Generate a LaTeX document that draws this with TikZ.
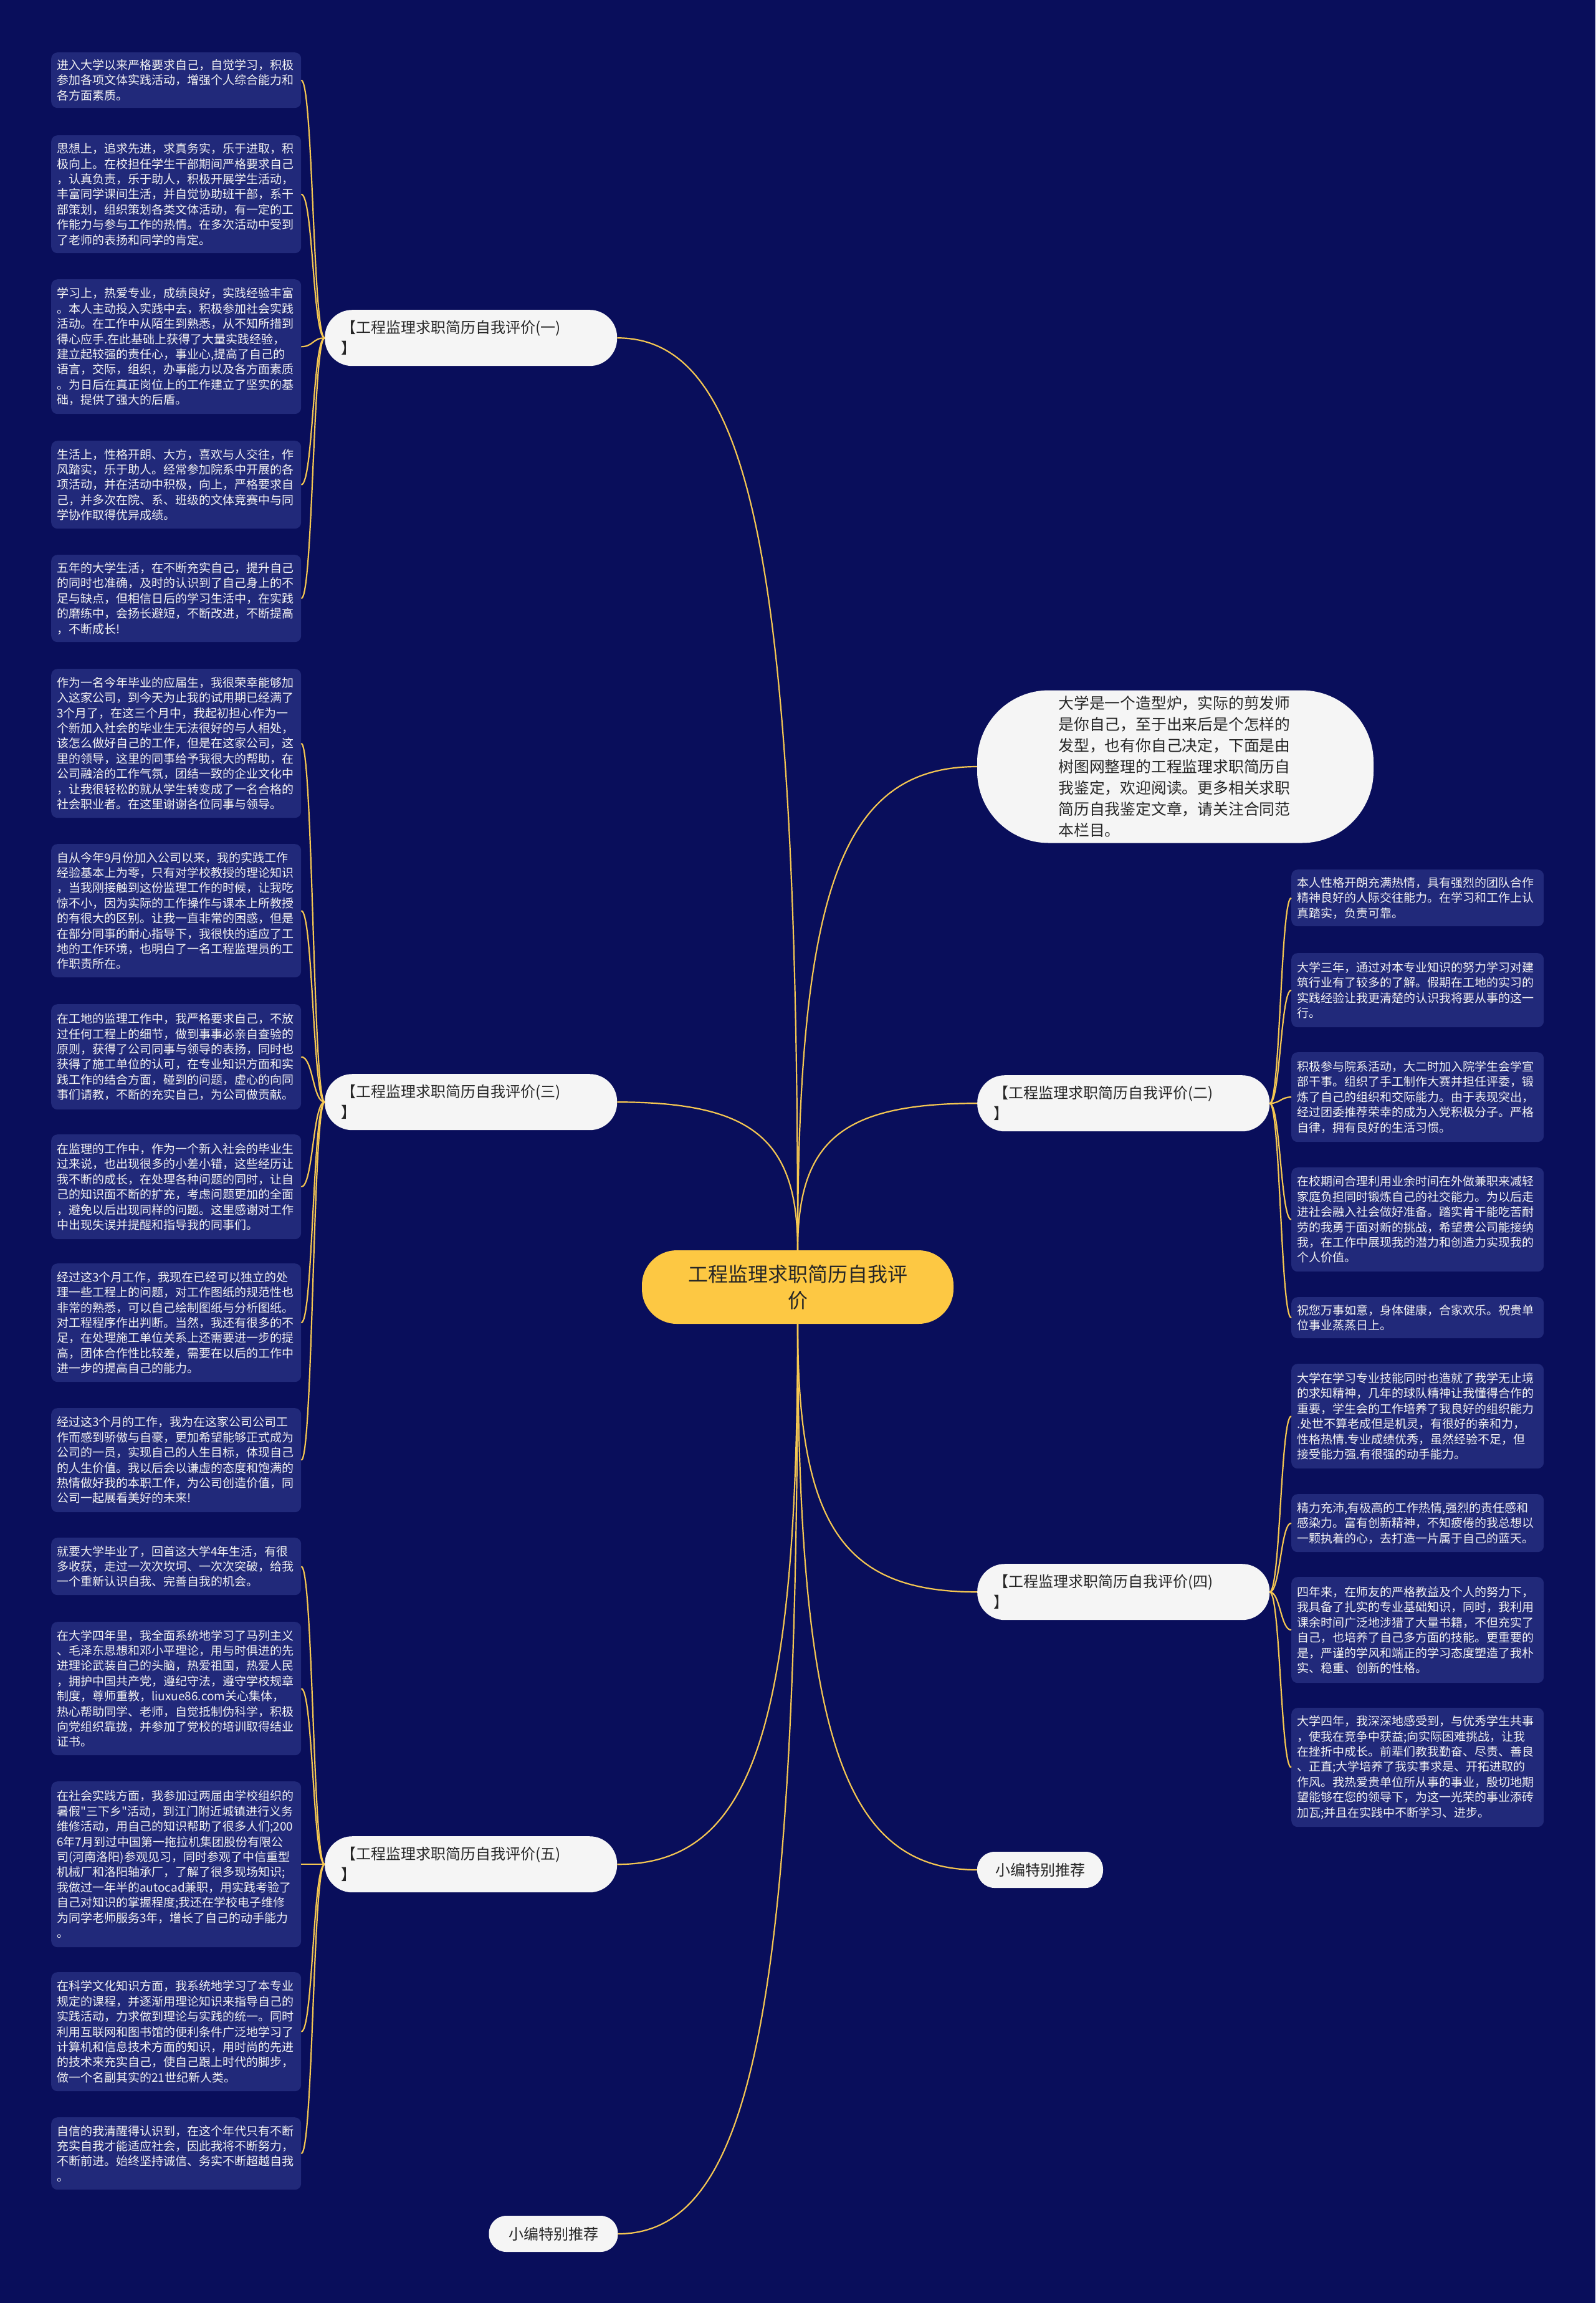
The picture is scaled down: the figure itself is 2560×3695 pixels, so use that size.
\documentclass[tikz,border=0pt]{standalone}
\usepackage{fontspec}
\newfontfamily\cjk{Noto Sans CJK SC}
\usetikzlibrary{calc}
\definecolor{bgc}{HTML}{090E5B}
\definecolor{leafc}{HTML}{21297A}
\definecolor{linec}{HTML}{F5C752}
\definecolor{nodec}{HTML}{F5F5F5}
\definecolor{centc}{HTML}{FDC843}
\definecolor{txtd}{HTML}{262626}
\definecolor{leaftxt}{HTML}{F2F2F2}
\tikzset{
  leafbox/.style={fill=leafc, rounded corners=10pt, anchor=north west, text width=383pt, align=left,
    inner xsep=9pt, inner ysep=10pt, font=\cjk\fontsize{19pt}{24.4pt}\selectfont, text=leaftxt},
  rleafbox/.style={leafbox, text width=387pt},
  branchbox/.style={fill=nodec, rounded corners=44pt, anchor=north west, minimum height=90pt,
    text width=417pt, inner xsep=26pt, align=left, font=\cjk\fontsize{24pt}{33pt}\selectfont, text=txtd},
  centbox/.style={fill=centc, rounded corners=56pt, minimum width=500pt, minimum height=118pt,
    align=center, font=\cjk\fontsize{32pt}{42pt}\selectfont, text=txtd},
  introbox/.style={fill=nodec, rounded corners=115pt, minimum width=636pt, minimum height=245pt,
    text width=375pt, align=left, inner ysep=6pt, font=\cjk\fontsize{24.8pt}{34pt}\selectfont, text=txtd},
  recbox/.style={fill=nodec, rounded corners=28pt, minimum height=58pt, align=center,
    font=\cjk\fontsize{24pt}{30pt}\selectfont, text=txtd},
  conn/.style={draw=linec, line width=2.2pt},
}
\newcommand\mmlink[3]{\coordinate (#3) at (#1 |- #2);\draw[conn] (#1) .. controls ($(#1)!0.75!(#3)$) and ($(#2)!0.75!(#3)$) .. (#2);}
\newcommand\leaflink[4]{\draw[conn] (#1) .. controls ([xshift=#3]#1) and ([xshift=#4]#2) .. (#2);}
\begin{document}
\begin{tikzpicture}[x=1pt,y=-1pt]
\fill[bgc] (0,0) rectangle (2560,3695);
\useasboundingbox (0,0) rectangle (2560,3695);

% center
\node[centbox] (center) at (1280,2065) {工程监理求职简历自我评\\价};

% branches
\node[branchbox] (b1) at (521,497) {【工程监理求职简历自我评价(一)\\】};
\node[branchbox] (b3) at (521,1723) {【工程监理求职简历自我评价(三)\\】};
\node[branchbox] (b5) at (521,2946) {【工程监理求职简历自我评价(五)\\】};
\node[branchbox] (b2) at (1568,1725) {【工程监理求职简历自我评价(二)\\】};
\node[branchbox] (b4) at (1568,2509) {【工程监理求职简历自我评价(四)\\】};
\node[introbox] (intro) at (1886,1230) {大学是一个造型炉，实际的剪发师\\是你自己，至于出来后是个怎样的\\发型，也有你自己决定，下面是由\\树图网整理的工程监理求职简历自\\我鉴定，欢迎阅读。更多相关求职\\简历自我鉴定文章，请关注合同范\\本栏目。};
\node[recbox, minimum width=207pt] (rec1) at (888,3584) {小编特别推荐};
\node[recbox, minimum width=202pt] (rec2) at (1669,3000) {小编特别推荐};

% left leaves (一)
\node[leafbox, minimum height=89pt] (l1) at (82,84) {进入大学以来严格要求自己，自觉学习，积极\\参加各项文体实践活动，增强个人综合能力和\\各方面素质。};
\node[leafbox, minimum height=189pt] (l2) at (82,217) {思想上，追求先进，求真务实，乐于进取，积\\极向上。在校担任学生干部期间严格要求自己\\，认真负责，乐于助人，积极开展学生活动，\\丰富同学课间生活，并自觉协助班干部，系干\\部策划，组织策划各类文体活动，有一定的工\\作能力与参与工作的热情。在多次活动中受到\\了老师的表扬和同学的肯定。};
\node[leafbox, minimum height=216pt] (l3) at (82,448) {学习上，热爱专业，成绩良好，实践经验丰富\\。本人主动投入实践中去，积极参加社会实践\\活动。在工作中从陌生到熟悉，从不知所措到\\得心应手.在此基础上获得了大量实践经验，\\建立起较强的责任心，事业心,提高了自己的\\语言，交际，组织，办事能力以及各方面素质\\。为日后在真正岗位上的工作建立了坚实的基\\础，提供了强大的后盾。};
\node[leafbox, minimum height=141pt] (l4) at (82,707) {生活上，性格开朗、大方，喜欢与人交往，作\\风踏实，乐于助人。经常参加院系中开展的各\\项活动，并在活动中积极，向上，严格要求自\\己，并多次在院、系、班级的文体竞赛中与同\\学协作取得优异成绩。};
\node[leafbox, minimum height=140pt] (l5) at (82,890) {五年的大学生活，在不断充实自己，提升自己\\的同时也准确，及时的认识到了自己身上的不\\足与缺点，但相信日后的学习生活中，在实践\\的磨练中，会扬长避短，不断改进，不断提高\\，不断成长!};

% left leaves (三)
\node[leafbox, minimum height=239pt] (l6) at (82,1073) {作为一名今年毕业的应届生，我很荣幸能够加\\入这家公司，到今天为止我的试用期已经满了\\3个月了，在这三个月中，我起初担心作为一\\个新加入社会的毕业生无法很好的与人相处，\\该怎么做好自己的工作，但是在这家公司，这\\里的领导，这里的同事给予我很大的帮助，在\\公司融洽的工作气氛，团结一致的企业文化中\\，让我很轻松的就从学生转变成了一名合格的\\社会职业者。在这里谢谢各位同事与领导。};
\node[leafbox, minimum height=214pt] (l7) at (82,1354) {自从今年9月份加入公司以来，我的实践工作\\经验基本上为零，只有对学校教授的理论知识\\，当我刚接触到这份监理工作的时候，让我吃\\惊不小，因为实际的工作操作与课本上所教授\\的有很大的区别。让我一直非常的困惑，但是\\在部分同事的耐心指导下，我很快的适应了工\\地的工作环境，也明白了一名工程监理员的工\\作职责所在。};
\node[leafbox, minimum height=169pt] (l8) at (82,1611) {在工地的监理工作中，我严格要求自己，不放\\过任何工程上的细节，做到事事必亲自查验的\\原则，获得了公司同事与领导的表扬，同时也\\获得了施工单位的认可，在专业知识方面和实\\践工作的结合方面，碰到的问题，虚心的向同\\事们请教，不断的充实自己，为公司做贡献。};
\node[leafbox, minimum height=168pt] (l9) at (82,1820) {在监理的工作中，作为一个新入社会的毕业生\\过来说，也出现很多的小差小错，这些经历让\\我不断的成长，在处理各种问题的同时，让自\\己的知识面不断的扩充，考虑问题更加的全面\\，避免以后出现同样的问题。这里感谢对工作\\中出现失误并提醒和指导我的同事们。};
\node[leafbox, minimum height=190pt] (l10) at (82,2027) {经过这3个月工作，我现在已经可以独立的处\\理一些工程上的问题，对工作图纸的规范性也\\非常的熟悉，可以自己绘制图纸与分析图纸。\\对工程程序作出判断。当然，我还有很多的不\\足，在处理施工单位关系上还需要进一步的提\\高，团体合作性比较差，需要在以后的工作中\\进一步的提高自己的能力。};
\node[leafbox, minimum height=167pt] (l11) at (82,2259) {经过这3个月的工作，我为在这家公司公司工\\作而感到骄傲与自豪，更加希望能够正式成为\\公司的一员，实现自己的人生目标，体现自己\\的人生价值。我以后会以谦虚的态度和饱满的\\热情做好我的本职工作，为公司创造价值，同\\公司一起展看美好的未来!};

% left leaves (五)
\node[leafbox, minimum height=92pt] (l12) at (82,2467) {就要大学毕业了，回首这大学4年生活，有很\\多收获，走过一次次坎坷、一次次突破，给我\\一个重新认识自我、完善自我的机会。};
\node[leafbox, minimum height=214pt] (l13) at (82,2602) {在大学四年里，我全面系统地学习了马列主义\\、毛泽东思想和邓小平理论，用与时俱进的先\\进理论武装自己的头脑，热爱祖国，热爱人民\\，拥护中国共产党，遵纪守法，遵守学校规章\\制度，尊师重教，liuxue86.com关心集体，\\热心帮助同学、老师，自觉抵制伪科学，积极\\向党组织靠拢，并参加了党校的培训取得结业\\证书。};
\node[leafbox, minimum height=266pt] (l14) at (82,2858) {在社会实践方面，我参加过两届由学校组织的\\暑假"三下乡"活动，到江门附近城镇进行义务\\维修活动，用自己的知识帮助了很多人们;200\\6年7月到过中国第一拖拉机集团股份有限公\\司(河南洛阳)参观见习，同时参观了中信重型\\机械厂和洛阳轴承厂，了解了很多现场知识;\\我做过一年半的autocad兼职，用实践考验了\\自己对知识的掌握程度;我还在学校电子维修\\为同学老师服务3年，增长了自己的动手能力\\。};
\node[leafbox, minimum height=191pt] (l15) at (82,3164) {在科学文化知识方面，我系统地学习了本专业\\规定的课程，并逐渐用理论知识来指导自己的\\实践活动，力求做到理论与实践的统一。同时\\利用互联网和图书馆的便利条件广泛地学习了\\计算机和信息技术方面的知识，用时尚的先进\\的技术来充实自己，使自己跟上时代的脚步，\\做一个名副其实的21世纪新人类。};
\node[leafbox, minimum height=116pt] (l16) at (82,3397) {自信的我清醒得认识到，在这个年代只有不断\\充实自我才能适应社会，因此我将不断努力，\\不断前进。始终坚持诚信、务实不断超越自我\\。};

% right leaves (二)
\node[rleafbox, minimum height=91pt] (r1) at (2072,1395) {本人性格开朗充满热情，具有强烈的团队合作\\精神良好的人际交往能力。在学习和工作上认\\真踏实，负责可靠。};
\node[rleafbox, minimum height=119pt] (r2) at (2072,1529) {大学三年，通过对本专业知识的努力学习对建\\筑行业有了较多的了解。假期在工地的实习的\\实践经验让我更清楚的认识我将要从事的这一\\行。};
\node[rleafbox, minimum height=144pt] (r3) at (2072,1688) {积极参与院系活动，大二时加入院学生会学宣\\部干事。组织了手工制作大赛并担任评委，锻\\炼了自己的组织和交际能力。由于表现突出，\\经过团委推荐荣幸的成为入党积极分子。严格\\自律，拥有良好的生活习惯。};
\node[rleafbox, minimum height=167pt] (r4) at (2072,1873) {在校期间合理利用业余时间在外做兼职来减轻\\家庭负担同时锻炼自己的社交能力。为以后走\\进社会融入社会做好准备。踏实肯干能吃苦耐\\劳的我勇于面对新的挑战，希望贵公司能接纳\\我，在工作中展现我的潜力和创造力实现我的\\个人价值。};
\node[rleafbox, minimum height=66pt] (r5) at (2072,2081) {祝您万事如意，身体健康，合家欢乐。祝贵单\\位事业蒸蒸日上。};

% right leaves (四)
\node[rleafbox, minimum height=168pt] (r6) at (2072,2188) {大学在学习专业技能同时也造就了我学无止境\\的求知精神，几年的球队精神让我懂得合作的\\重要，学生会的工作培养了我良好的组织能力\\.处世不算老成但是机灵，有很好的亲和力，\\性格热情.专业成绩优秀，虽然经验不足，但\\接受能力强.有很强的动手能力。};
\node[rleafbox, minimum height=93pt] (r7) at (2072,2397) {精力充沛,有极高的工作热情,强烈的责任感和\\感染力。富有创新精神，不知疲倦的我总想以\\一颗执着的心，去打造一片属于自己的蓝天。};
\node[rleafbox, minimum height=170pt] (r8) at (2072,2530) {四年来，在师友的严格教益及个人的努力下，\\我具备了扎实的专业基础知识，同时，我利用\\课余时间广泛地涉猎了大量书籍，不但充实了\\自己，也培养了自己多方面的技能。更重要的\\是，严谨的学风和端正的学习态度塑造了我朴\\实、稳重、创新的性格。};
\node[rleafbox, minimum height=191pt] (r9) at (2072,2740) {大学四年，我深深地感受到，与优秀学生共事\\，使我在竞争中获益;向实际困难挑战，让我\\在挫折中成长。前辈们教我勤奋、尽责、善良\\、正直;大学培养了我实事求是、开拓进取的\\作风。我热爱贵单位所从事的事业，殷切地期\\望能够在您的领导下，为这一光荣的事业添砖\\加瓦;并且在实践中不断学习、进步。};

% center connectors
\mmlink{center.north}{b1.east}{k1}
\mmlink{center.north}{b3.east}{k3}
\mmlink{center.north}{intro.west}{ki}
\mmlink{center.north}{b2.west}{k2}
\mmlink{center.south}{b4.west}{k4}
\mmlink{center.south}{rec2.west}{kr2}
\mmlink{center.south}{b5.east}{k5}
\mmlink{center.south}{rec1.east}{kr1}

% leaf connectors
\foreach \l in {l1,l2,l3,l4,l5}{\leaflink{b1.west}{\l.east}{-19pt}{19pt}}
\foreach \l in {l6,l7,l8,l9,l10,l11}{\leaflink{b3.west}{\l.east}{-19pt}{19pt}}
\foreach \l in {l12,l13,l14,l15,l16}{\leaflink{b5.west}{\l.east}{-19pt}{19pt}}
\foreach \l in {r1,r2,r3,r4,r5}{\leaflink{b2.east}{\l.west}{17pt}{-17pt}}
\foreach \l in {r6,r7,r8,r9}{\leaflink{b4.east}{\l.west}{17pt}{-17pt}}
\end{tikzpicture}
\end{document}
